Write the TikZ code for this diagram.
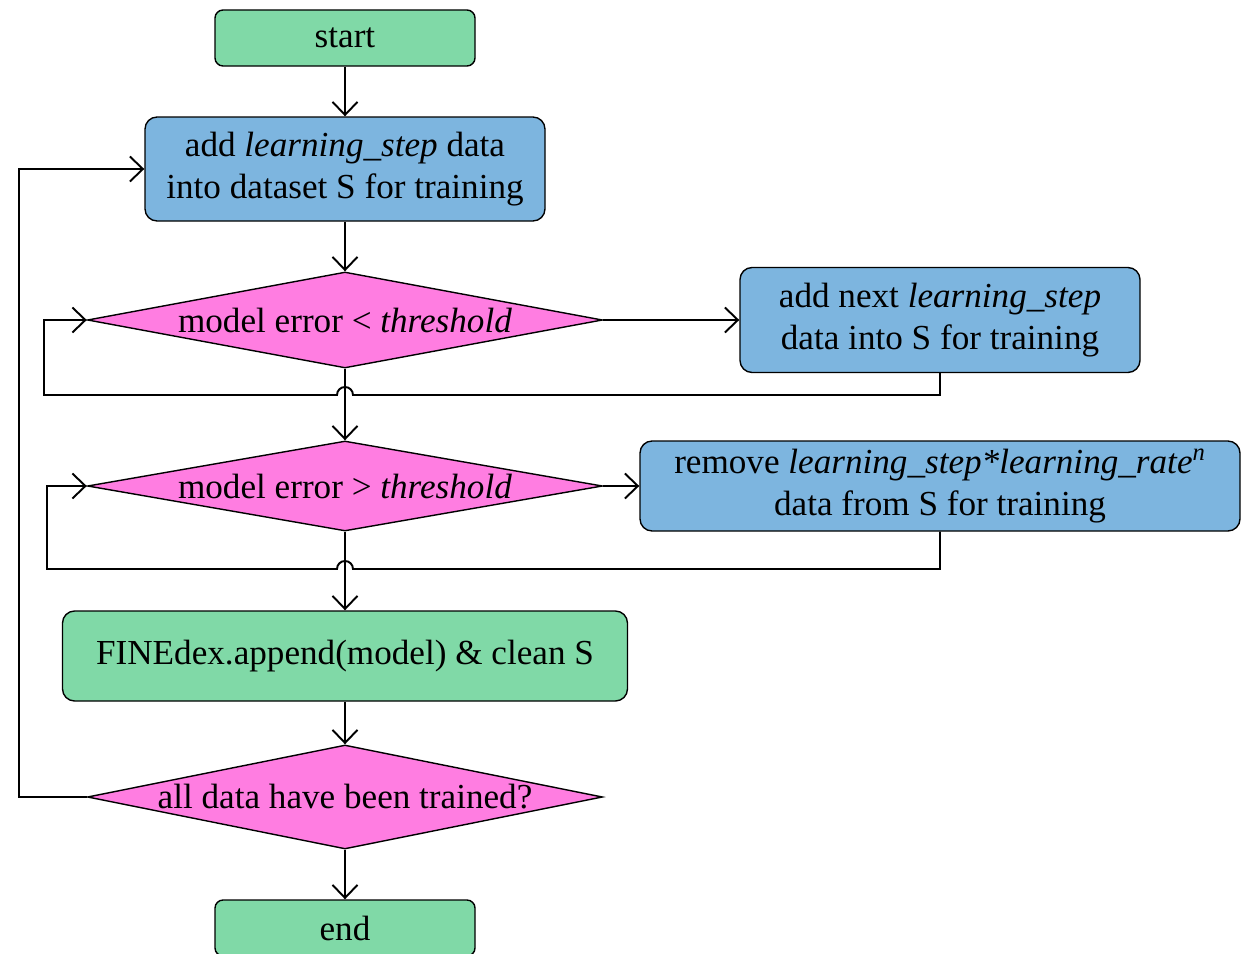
\documentclass[tikz,border=0pt]{standalone}
\usepackage{fontspec}
\setmainfont{Liberation Serif}
\usetikzlibrary{shapes.geometric,arrows.meta,calc}
\definecolor{termgreen}{RGB}{128,217,167}
\definecolor{procblue}{RGB}{125,181,223}
\definecolor{testpink}{RGB}{255,125,225}
\tikzset{
  terminal/.style={draw,fill=termgreen,rectangle,rounded corners=1ex,minimum width=5.2cm,minimum height=1.12cm},
  process/.style={draw,fill=procblue,rectangle,rounded corners=1.5ex,align=center,inner sep=0pt},
  test/.style={draw,fill=testpink,diamond,aspect=5.4,inner sep=0pt,minimum width=10.3cm},
  flow/.style={line width=1.1pt,-{Straight Barb[length=2.6mm,width=5mm]}},
}
\begin{document}
\begin{tikzpicture}[font=\fontsize{20}{24}\selectfont,line width=0.8pt]
        \useasboundingbox (0,0) rectangle (24.96,-19.08);
        %% Blocks
        \node[terminal] (start) at (6.9,-0.76) {start};
        \node[process,minimum width=8cm,minimum height=2.08cm] (train) at (6.9,-3.38) {add \textit{learning\_step} data\\into dataset S for training};
        \node[test,minimum height=1.92cm] (less) at (6.9,-6.4) {model error {<} \textit{threshold}};
        \node[process,minimum width=8cm,minimum height=2.1cm] (addnext) at (18.8,-6.4) {add next \textit{learning\_step}\\data into S for training};
        \node[test,minimum height=1.8cm] (more) at (6.9,-9.72) {model error {>} \textit{threshold}};
        \node[process,minimum width=12cm,minimum height=1.8cm] (remove) at (18.8,-9.72) {remove \textit{learning\_step*learning\_rate}\textsuperscript{\textit{n}}\\data from S for training};
        \node[terminal,minimum width=11.3cm,minimum height=1.8cm,rounded corners=1.5ex] (append) at (6.9,-13.12) {FINEdex.append(model) \& clean S};
        \node[test,minimum height=2.08cm] (alldone) at (6.9,-15.94) {all data have been trained?};
        \node[terminal] (end) at (6.9,-18.56) {end};
        %% Loop corners
        \coordinate (lessback) at (0.88,-7.9);
        \coordinate (moreback) at (0.94,-11.38);
        \coordinate (allback) at (0.38,-15.94);
        %% Main line
        \draw[flow] (start) -- (train);
        \draw[flow] (train) -- (less);
        \draw[flow] (less) -- (more);
        \draw[flow] (more) -- (append);
        \draw[flow] (append) -- (alldone);
        \draw[flow] (alldone) -- (end);
        %% Branches
        \draw[flow] (less.east) -- (addnext.west);
        \draw[flow] (more.east) -- (remove.west);
        \draw[flow] (addnext.south) |- ($(less.south |- lessback)+(0.16,0)$) arc[start angle=0,end angle=180,radius=0.16] -- (lessback) |- (less.west);
        \draw[flow] (remove.south) |- ($(more.south |- moreback)+(0.16,0)$) arc[start angle=0,end angle=180,radius=0.16] -- (moreback) |- (more.west);
        \draw[flow] (alldone.west) -- (allback) |- (train.west);
\end{tikzpicture}
\end{document}
